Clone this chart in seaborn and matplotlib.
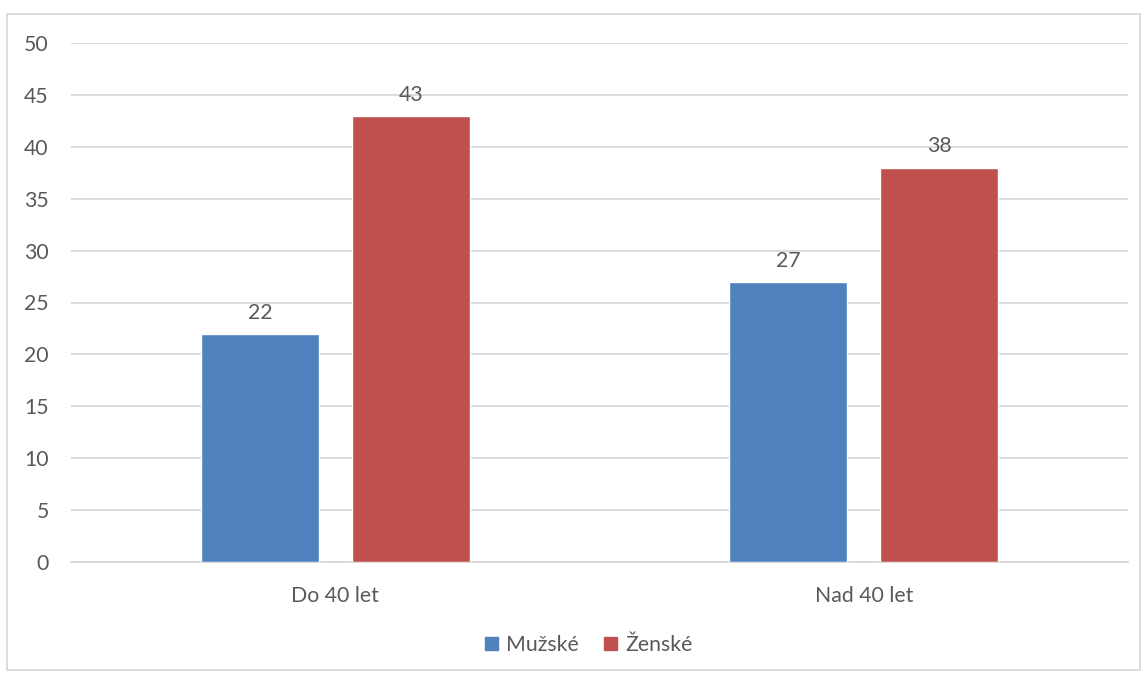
import matplotlib
matplotlib.use("Agg")
import matplotlib.pyplot as plt
import seaborn as sns
import pandas as pd
from matplotlib.patches import Rectangle

categories = ["Do 40 let", "Nad 40 let"]
series_names = ["Mužské", "Ženské"]
muzske = [22, 27]
zenske = [43, 38]
y_ticks = [0, 5, 10, 15, 20, 25, 30, 35, 40, 45, 50]

colors = ["#4F81BD", "#C0504D"]
text_color = "#595959"
grid_color = "#D9D9D9"

sns.set_theme(style="white")
plt.rcParams["font.family"] = ["Lato", "DejaVu Sans"]

df = pd.DataFrame({
    "cat": categories * 2,
    "series": [series_names[0]] * 2 + [series_names[1]] * 2,
    "value": muzske + zenske,
})

fs = 15.3
fig = plt.figure(figsize=(11.48, 6.76), dpi=100)
ax = fig.add_axes([71 / 1148, 114 / 676, (1128 - 71) / 1148, (562 - 43) / 676])

sns.barplot(data=df, x="cat", y="value", hue="series", order=categories,
            hue_order=series_names, palette=colors, width=0.5714, gap=0.2185,
            saturation=1, ax=ax, errorbar=None, legend=False, zorder=3)

ax.set_xlim(-0.5, 1.5)
ax.set_ylim(0, 50)
ax.set_yticks(y_ticks)
ax.yaxis.grid(True, color=grid_color, linewidth=1.3, zorder=0)
ax.set_axisbelow(True)
for s in ax.spines.values():
    s.set_visible(False)
ax.spines["bottom"].set_visible(True)
ax.spines["bottom"].set_color(grid_color)
ax.spines["bottom"].set_linewidth(1.3)
ax.set_xlabel("")
ax.set_ylabel("")
ax.tick_params(axis="y", length=0, pad=16, labelsize=fs, labelcolor=text_color)
ax.tick_params(axis="x", length=0, pad=17, labelsize=fs, labelcolor=text_color)

for cont in ax.containers:
    ax.bar_label(cont, labels=[f"{v:g}" for v in cont.datavalues], padding=8,
                 fontsize=fs, color=text_color)

# legend
handles = [Rectangle((0, 0), 1, 1, color=c) for c in colors]
fig.legend(handles, series_names, loc="center", bbox_to_anchor=(589 / 1148, 1 - 645 / 676),
           ncol=2, frameon=False, fontsize=fs, labelcolor=text_color,
           handlelength=0.6, handleheight=0.6, handletextpad=0.4, columnspacing=1.2)

# outer chart border
fig.patches.append(Rectangle((7 / 1148, 6 / 676), 1133 / 1148, 656 / 676,
                             transform=fig.transFigure, fill=False,
                             edgecolor=grid_color, linewidth=1.3))

fig.savefig("out.png", dpi=100)
